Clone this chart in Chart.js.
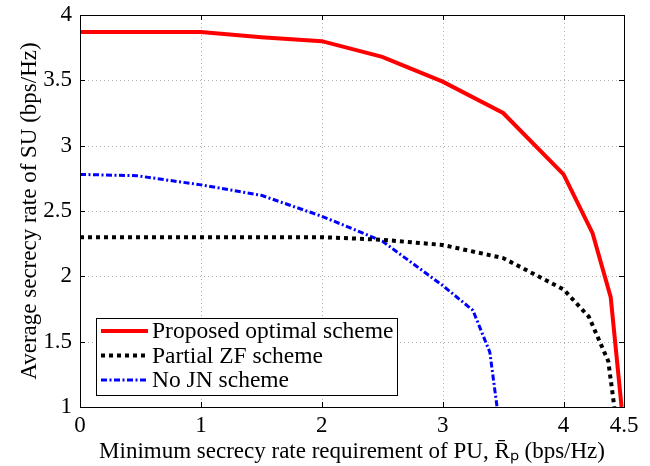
<!DOCTYPE html>
<html>
<head>
<meta charset="utf-8">
<script src="https://cdn.jsdelivr.net/npm/chart.js@4/dist/chart.umd.min.js"></script>
<style>
html,body{margin:0;padding:0;background:#fff;}
#wrap{width:650px;height:466px;position:relative;}
</style>
</head>
<body>
<div id="wrap"><canvas id="c" width="650" height="466"></canvas></div>
<script>
// ---- data ----
const seriesNames = ["Proposed optimal scheme", "Partial ZF scheme", "No JN scheme"];
const proposedX = [0, 1, 1.5, 2, 2.5, 3, 3.5, 4, 4.24, 4.39, 4.48];
const proposedY = [3.87, 3.87, 3.83, 3.80, 3.68, 3.49, 3.25, 2.78, 2.33, 1.84, 1.0];
const partialX = [0, 0.5, 1, 1.5, 2, 2.5, 3, 3.5, 4, 4.21, 4.37, 4.42];
const partialY = [2.30, 2.30, 2.30, 2.30, 2.30, 2.28, 2.24, 2.14, 1.90, 1.69, 1.35, 1.0];
const noJNX = [0, 0.47, 1, 1.5, 2, 2.5, 3, 3.25, 3.39, 3.45];
const noJNY = [2.78, 2.77, 2.70, 2.62, 2.46, 2.27, 1.93, 1.74, 1.42, 1.0];
const xTicks = [0, 1, 2, 3, 4, 4.5];
const yTicks = [1, 1.5, 2, 2.5, 3, 3.5, 4];
const yTitle = "Average secrecy rate of SU (bps/Hz)";
const xTitle = "Minimum secrecy rate requirement of PU, R̄ₚ (bps/Hz)";

const pts = (xs, ys) => xs.map((x, i) => ({x: x, y: ys[i]}));
const SERIF = "'Liberation Serif', 'Times New Roman', serif";

const styles = [
  {borderColor: '#ff0000', borderWidth: 4, borderDash: []},
  {borderColor: '#000000', borderWidth: 4, borderDash: [4, 4]},
  {borderColor: '#0000ff', borderWidth: 3, borderDash: [6, 2.5, 2, 2.5]}
];
const datas = [pts(proposedX, proposedY), pts(partialX, partialY), pts(noJNX, noJNY)];

const frameAndLegend = {
  id: 'frameAndLegend',
  beforeDatasetsDraw(chart) {
    const ctx = chart.ctx, a = chart.chartArea;
    const xs = chart.scales.x, ys = chart.scales.y;
    ctx.save();
    ctx.strokeStyle = '#b0b0b0';
    ctx.lineWidth = 1;
    ctx.setLineDash([1, 3]);
    ctx.beginPath();
    xTicks.forEach(v => {
      const px = Math.round(xs.getPixelForValue(v)) + 0.5;
      ctx.moveTo(px, a.top); ctx.lineTo(px, a.bottom);
    });
    yTicks.forEach(v => {
      const py = Math.round(ys.getPixelForValue(v)) + 0.5;
      ctx.moveTo(a.left, py); ctx.lineTo(a.right, py);
    });
    ctx.stroke();
    ctx.restore();
  },
  afterDatasetsDraw(chart) {
    const ctx = chart.ctx, a = chart.chartArea;
    const xs = chart.scales.x, ys = chart.scales.y;
    ctx.save();
    ctx.strokeStyle = '#000';
    ctx.lineWidth = 1;
    ctx.setLineDash([]);
    // inward ticks
    ctx.beginPath();
    xTicks.forEach(v => {
      const px = Math.round(xs.getPixelForValue(v)) + 0.5;
      ctx.moveTo(px, a.bottom); ctx.lineTo(px, a.bottom - 5);
      ctx.moveTo(px, a.top); ctx.lineTo(px, a.top + 5);
    });
    yTicks.forEach(v => {
      const py = Math.round(ys.getPixelForValue(v)) + 0.5;
      ctx.moveTo(a.left, py); ctx.lineTo(a.left + 5, py);
      ctx.moveTo(a.right, py); ctx.lineTo(a.right - 5, py);
    });
    ctx.stroke();
    // frame
    ctx.strokeRect(Math.round(a.left) + 0.5, Math.round(a.top) + 0.5,
                   Math.round(a.right - a.left), Math.round(a.bottom - a.top));
    // legend
    const bx = 96.5, by = 318.5, bw = 301, bh = 77;
    ctx.fillStyle = '#fff';
    ctx.fillRect(bx, by, bw, bh);
    ctx.strokeRect(bx, by, bw, bh);
    ctx.font = '23.5px ' + SERIF;
    ctx.textBaseline = 'middle';
    ctx.textAlign = 'left';
    seriesNames.forEach((name, i) => {
      const cy = 331 + i * 24.5;
      const st = styles[i];
      ctx.beginPath();
      ctx.strokeStyle = st.borderColor;
      ctx.lineWidth = st.borderWidth;
      ctx.setLineDash(st.borderDash);
      ctx.moveTo(101, cy); ctx.lineTo(148, cy);
      ctx.stroke();
      ctx.setLineDash([]);
      ctx.fillStyle = '#000';
      ctx.fillText(name, 152, cy + 1);
    });
    ctx.restore();
  }
};

new Chart(document.getElementById('c'), {
  type: 'line',
  data: {
    datasets: seriesNames.map((n, i) => Object.assign({
      label: n,
      data: datas[i],
      pointRadius: 0,
      fill: false,
      tension: 0,
      borderCapStyle: 'butt',
      borderJoinStyle: 'miter'
    }, styles[i]))
  },
  options: {
    responsive: false,
    animation: false,
    devicePixelRatio: 1,
    layout: {padding: {top: 15, right: 26, left: 0, bottom: 0}},
    plugins: {legend: {display: false}, tooltip: {enabled: false}},
    scales: {
      x: {
        type: 'linear', min: 0, max: 4.5,
        afterBuildTicks: s => { s.ticks = xTicks.map(v => ({value: v})); },
        afterFit: s => { s.height = 59; s.paddingLeft = 0; s.paddingRight = 0; },
        grid: {display: false, drawTicks: false},
        border: {display: false},
        ticks: {color: '#000', font: {family: SERIF, size: 23}, padding: 5, maxRotation: 0,
                callback: v => String(v)},
        title: {display: true, text: xTitle, color: '#000', font: {family: SERIF, size: 23}, padding: {top: 0, bottom: 0}}
      },
      y: {
        type: 'linear', min: 1, max: 4,
        afterBuildTicks: s => { s.ticks = yTicks.map(v => ({value: v})); },
        afterFit: s => { s.width = 80; s.paddingTop = 0; s.paddingBottom = 0; },
        grid: {display: false, drawTicks: false},
        border: {display: false},
        ticks: {color: '#000', font: {family: SERIF, size: 23}, padding: 8,
                callback: v => String(v)},
        title: {display: true, text: yTitle, color: '#000', font: {family: SERIF, size: 23}, padding: {top: 16, bottom: 0}}
      }
    }
  },
  plugins: [frameAndLegend]
});
</script>
</body>
</html>
